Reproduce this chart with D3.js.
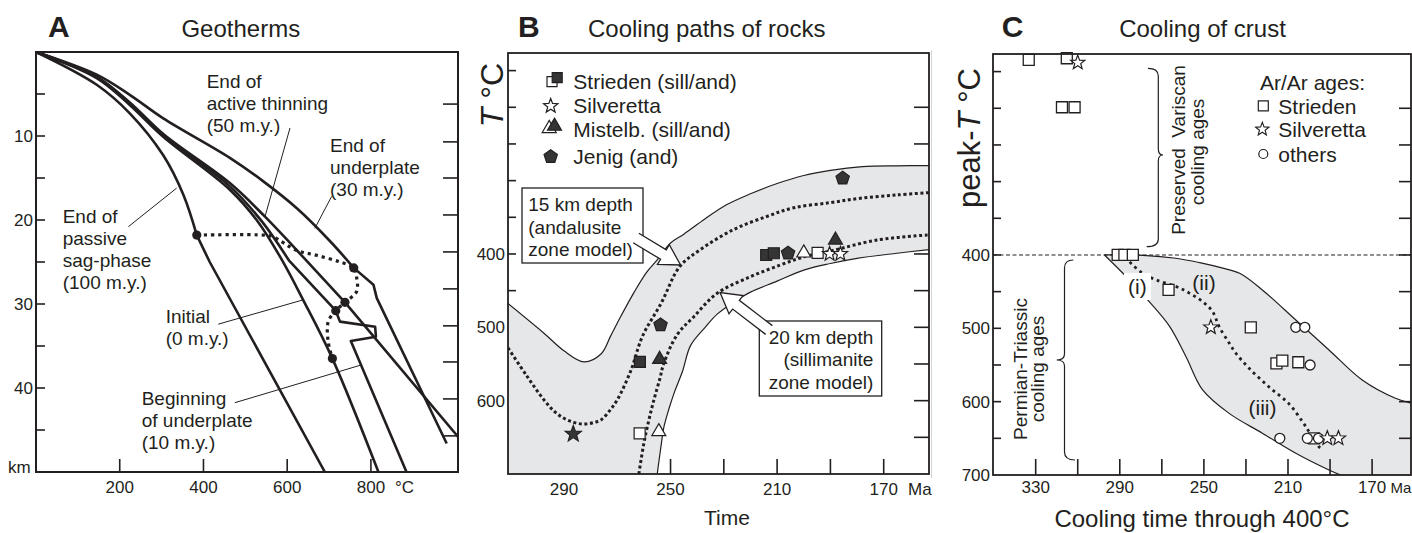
<!DOCTYPE html>
<html>
<head>
<meta charset="utf-8">
<script src="https://cdn.jsdelivr.net/npm/d3@7"></script>
<style>
  body { margin: 0; background: #fff; }
  svg { display: block; font-family: "Liberation Sans", Arial, Helvetica, sans-serif; }
  text { fill: #231f20; }
</style>
</head>
<body>
<svg id="fig" width="1412" height="533"></svg>
<script>
// ---------- Panel A: geotherms, points are [temperature °C, depth km]
const geoInitial = [[0,0],[145,3.1],[224,6.3],[304,10.1],[463,16.4],[530,20.2],[588,24.8],[638,29.5],[708,36.5],[818,50]];
const geoUnderplateStart = [[0,0],[145,3.0],[224,6.15],[304,9.9],[463,16],[540,20.2],[604,24.8],[716,30.8],[726,32.1],[810,32.7],[812,33.9],[752,34.4],[885,50]];
const geoUnderplateEnd = [[0,0],[145,2.7],[224,5.1],[304,7.9],[463,12.6],[543,15.4],[623,18.6],[702,22.5],[759,25.7],[806,27.7],[814,29.3],[981,46.6]];
const geoThinningEnd = [[0,0],[145,2.95],[224,6.0],[304,9.76],[463,15.6],[547,19.6],[623,23.6],[738,29.8],[1008,45.8]];
const geoSagEnd = [[0,0],[145,3.9],[224,7.3],[304,12.3],[352,17],[384,21.8],[415,25],[690,50]];
const isoLine = [[384,21.8],[543,21.8],[566,22],[622,23.6],[670,24.2],[726,25],[759,25.7],[766,26.9],[766,28.5],[738,29.8],[716,30.8],[698,32.1],[698,34.5],[708,36.5]];
const isoDots = [[384,21.8],[759,25.7],[738,29.8],[716,30.8],[708,36.5]];
const depthTicksA = [5,10,15,20,25,30,35,40,45];
const depthLabelsA = [10,20,30,40];
const tempTicksA = [200,400,600,800];
const rightTicksA = [6.2,10.7,15,19.4,23.8,28.2,32.6,36.9,41.3,45.7,50];
// leader lines: [from, to] in [°C, km]
const leadersA = [
  [[606.7,9.05],[547,19.6]],
  [[706,17.2],[666,21]],
  [[220.5,20.8],[336,16.2]],
  [[435.5,32.4],[638.5,29.5]],
  [[475,41.75],[774,37.3]]
];

// ---------- Panel B: cooling paths, points are [time Ma, T °C]
const bandUpperB = [[311.5,466],[297.5,508],[290,532],[282.5,547],[276,536],[272.5,512],[268.8,486],[263.8,453],[259,425],[255,408],[250,385],[245,373],[237,352],[229,333],[220,318],[210,304],[200,293],[190,286],[178,281],[165,279.8],[153,279.5]];
const bandLowerB = [[255,700],[253.5,660],[252.5,636],[250.5,610],[248.5,588],[245.5,560],[242.5,525],[237,500],[232.5,482],[226,465],[220,452],[210,437],[200,422],[190,413],[180,406],[165,399],[153,394]];
const path15km = [[311,528],[304,566],[297.5,599],[293.5,615],[290,624],[286,630],[282.5,632],[279,630],[276,626],[272.5,612],[270,599],[265,560],[260.5,512],[253.5,467],[246.5,417],[239,394.5],[226.5,367],[214,349],[203.75,337],[190,330],[178.75,324],[165,319.5],[153,316.4]];
const path20km = [[261.9,700],[260,658],[258.1,626],[256.25,599],[254,570],[252.5,549],[247.5,510],[241.25,485.5],[232.5,453.6],[220,431],[208.75,415],[200,404],[190,396],[172.5,381],[153,374]];
const striedenFilledB = [[214.1,401.4],[211.25,399],[261.5,547]];
const striedenOpenB = [[194.8,398.6],[261.6,644.5]];
const silverettaB = [[190.3,400],[186.25,400]];
const starFilledB = [[286.5,645.5]];
const mistelbFilledB = [[254.1,543.6],[188.1,381]];
const mistelbOpenB = [[200,398.6],[254.4,642.3]];
const jenigB = [[185.4,296.8],[205.9,399],[253.75,496.8]];
const timeTicksB = [290,270,250,230,210,190,170];
const timeLabelsB = [290,250,210,170];
const tempTicksLeftB = [150,200,250,300,350,400,450,500,550,600,650];
const tempTicksRightB = [200,250,300,350,400,450,500,550,600,650];
const tempLabelsB = [400,500,600];

// ---------- Panel C: cooling of crust, points are [cooling age Ma, peak T °C]
const bandUpperC = [[297.3,400],[279,400.5],[263.3,404.5],[252,410.5],[241,418],[233,425],[222.2,447.7],[206.3,488.6],[190.5,529.5],[174.7,570.5],[158.9,595.4],[151.5,602]];
const bandLowerC = [[297.3,400],[287.8,427],[275.9,464],[266.4,497],[258.5,538.7],[250.6,584],[238,616],[222.2,643],[206.3,670.4],[190.5,693.2],[184.2,701]];
const trendC = [[287,402],[285.4,409],[279.1,425],[272.7,434],[263.2,443],[256.9,452],[250.6,463.7],[245.9,477],[242.7,498],[238,520],[234.8,534],[228.5,554.5],[219,580],[209.5,603],[203.2,627],[200,641],[195.3,661.4],[194.3,664]];
const striedenC = [[333.3,134],[315.2,131.8],[317.5,198.6],[311.5,198.6],[291,400],[287.8,400],[283.8,400],[266.8,447.7],[227.7,498.6],[215.5,547.7],[212.7,544.1],[205.1,546.3],[197.6,650]];
const othersC = [[206.3,498.6],[202,498.6],[199.5,550],[213.9,650],[200.8,650],[195.5,650]];
const silverettaC = [[310,137.8],[246.7,498.6],[191.3,650],[186,650]];
const timeTicksC = [330,310,290,270,250,230,210,190,170];
const timeLabelsC = [330,290,250,210,170];
const tempTicksLeftC = [150,200,250,300,350,400,450,500,550,600,650];
const tempTicksRightC = [200,250,300,350,400,450,500,550,600,650];
const tempLabelsC = [400,500,600,700];

const ink = "#231f20", shade = "#e6e7e9", darkFill = "#353535";
const svg = d3.select("#fig");
const defs = svg.append("defs");

function clip(id, x, y, w, h) {
  defs.append("clipPath").attr("id", id).append("rect").attr("x", x).attr("y", y).attr("width", w).attr("height", h);
}
function text(g, x, y, s, size, anchor, weight) {
  return g.append("text").attr("x", x).attr("y", y).attr("font-size", size)
    .attr("text-anchor", anchor || "start").attr("font-weight", weight || null).text(s);
}
function lines(g, x, y, arr, size, anchor, step) {
  arr.forEach((s, i) => text(g, x, y + i * step, s, size, anchor));
}
function sqD(s) { return `M${-s/2},${-s/2}h${s}v${s}h${-s}Z`; }
function triD(s) { const h = s * Math.sqrt(3) / 2; return `M0,${-2*h/3}L${s/2},${h/3}L${-s/2},${h/3}Z`; }
function starD(R) {
  const pts = d3.range(10).map(i => {
    const a = -Math.PI / 2 + i * Math.PI / 5, r = i % 2 ? R * 0.42 : R;
    return [r * Math.cos(a), r * Math.sin(a)];
  });
  return "M" + pts.map(p => p[0].toFixed(2) + "," + p[1].toFixed(2)).join("L") + "Z";
}
function pentD(R) {
  const pts = d3.range(5).map(i => {
    const a = -Math.PI / 2 + i * 2 * Math.PI / 5;
    return [R * Math.cos(a), R * Math.sin(a)];
  });
  return "M" + pts.map(p => p[0].toFixed(2) + "," + p[1].toFixed(2)).join("L") + "Z";
}
function circD(r) { return `M${r},0A${r},${r} 0 1,1 ${-r},0A${r},${r} 0 1,1 ${r},0Z`; }
function marks(g, data, x, y, d, fill, sw) {
  g.selectAll(null).data(data).join("path")
    .attr("transform", p => `translate(${x(p[0])},${y(p[1])})`)
    .attr("d", d).attr("fill", fill).attr("stroke", ink).attr("stroke-width", sw || 1.2);
}
function arrow(g, p0, p1, sw, hw, hl) {
  const dx = p1[0] - p0[0], dy = p1[1] - p0[1], L = Math.hypot(dx, dy);
  const ux = dx / L, uy = dy / L, nx = -uy, ny = ux;
  const bx = p1[0] - ux * hl, by = p1[1] - uy * hl;
  const P = [
    [p0[0] + nx * sw, p0[1] + ny * sw], [bx + nx * sw, by + ny * sw], [bx + nx * hw, by + ny * hw],
    p1, [bx - nx * hw, by - ny * hw], [bx - nx * sw, by - ny * sw], [p0[0] - nx * sw, p0[1] - ny * sw]
  ];
  const d = "M" + P.map(p => p.join(",")).join("L");
  g.append("path").attr("d", d + "Z").attr("fill", "#fff");
  g.append("path").attr("d", d).attr("fill", "none").attr("stroke", ink).attr("stroke-width", 1.3).attr("stroke-linejoin", "miter");
}

// ================= Panel A =================
const xA = d3.scaleLinear().domain([0, 1008]).range([36, 458]);
const yA = d3.scaleLinear().domain([0, 50]).range([52, 472]);
clip("clipA", 36, 52, 422, 420);
const gA = svg.append("g");

text(gA, 48, 36.7, "A", 30, "start", "bold");
text(gA, 240.8, 36.7, "Geotherms", 24, "middle");

gA.selectAll(null).data(depthTicksA).join("line")
  .attr("x1", 36).attr("x2", 45).attr("y1", d => yA(d)).attr("y2", d => yA(d)).attr("stroke", ink).attr("stroke-width", 1.6);
gA.selectAll(null).data(rightTicksA).join("line")
  .attr("x1", 443).attr("x2", 458).attr("y1", d => yA(d)).attr("y2", d => yA(d)).attr("stroke", ink).attr("stroke-width", 1.6);
gA.selectAll(null).data(tempTicksA).join("line")
  .attr("x1", d => xA(d)).attr("x2", d => xA(d)).attr("y1", 472).attr("y2", 459).attr("stroke", ink).attr("stroke-width", 1.6);
depthLabelsA.forEach(v => text(gA, 33, yA(v) + 6, v, 17, "end"));
tempTicksA.forEach(v => text(gA, xA(v), 492.5, v, 17, "middle"));
text(gA, 8, 472.5, "km", 17);
text(gA, 395, 492.5, "°C", 17);

const smoothA = d3.line().x(d => xA(d[0])).y(d => yA(d[1])).curve(d3.curveCatmullRom.alpha(0.5));
function geoPath(pts, k) {
  return smoothA(pts.slice(0, k + 1)) + pts.slice(k + 1).map(p => `L${xA(p[0])},${yA(p[1])}`).join("");
}
const curvesA = gA.append("g").attr("clip-path", "url(#clipA)")
  .attr("fill", "none").attr("stroke", ink).attr("stroke-width", 2.6).attr("stroke-linejoin", "round");
curvesA.append("path").attr("d", geoPath(geoSagEnd, 5));
curvesA.append("path").attr("d", geoPath(geoInitial, geoInitial.length - 1));
curvesA.append("path").attr("d", geoPath(geoUnderplateStart, 6));
curvesA.append("path").attr("d", geoPath(geoThinningEnd, 7));
curvesA.append("path").attr("d", geoPath(geoUnderplateEnd, 8));

gA.append("path").attr("d", smoothA(isoLine)).attr("fill", "none").attr("stroke", ink)
  .attr("stroke-width", 3.2).attr("stroke-dasharray", "3.2,4");
gA.selectAll(null).data(isoDots).join("circle")
  .attr("cx", d => xA(d[0])).attr("cy", d => yA(d[1])).attr("r", 4.6).attr("fill", ink);

gA.selectAll(null).data(leadersA).join("line")
  .attr("x1", d => xA(d[0][0])).attr("y1", d => yA(d[0][1]))
  .attr("x2", d => xA(d[1][0])).attr("y2", d => yA(d[1][1]))
  .attr("stroke", ink).attr("stroke-width", 1);

lines(gA, 206.7, 88.3, ["End of", "active thinning", "(50 m.y.)"], 19, "start", 22);
lines(gA, 330, 151.7, ["End of", "underplate", "(30 m.y.)"], 19, "start", 22);
lines(gA, 62.7, 223, ["End of", "passive", "sag-phase", "(100 m.y.)"], 19, "start", 22);
lines(gA, 165.7, 323, ["Initial", "(0 m.y.)"], 19, "start", 22);
lines(gA, 141.7, 405, ["Beginning", "of underplate", "(10 m.y.)"], 19, "start", 22);

gA.append("rect").attr("x", 36).attr("y", 52).attr("width", 422).attr("height", 420)
  .attr("fill", "none").attr("stroke", ink).attr("stroke-width", 2);

// ================= Panel B =================
const xB = d3.scaleLinear().domain([311, 153]).range([508, 929]);
const yB = d3.scaleLinear().domain([126, 700]).range([53, 474]);
clip("clipB", 508, 53, 421, 421);
const gB = svg.append("g");

text(gB, 518, 36.7, "B", 30, "start", "bold");
text(gB, 706.7, 37, "Cooling paths of rocks", 24, "middle");

gB.selectAll(null).data(tempTicksLeftB).join("line")
  .attr("x1", 508).attr("x2", 516).attr("y1", d => yB(d)).attr("y2", d => yB(d)).attr("stroke", ink).attr("stroke-width", 1.6);
gB.selectAll(null).data(tempTicksRightB).join("line")
  .attr("x1", 914).attr("x2", 929).attr("y1", d => yB(d)).attr("y2", d => yB(d)).attr("stroke", ink).attr("stroke-width", 1.6);
gB.selectAll(null).data(timeTicksB).join("line")
  .attr("x1", d => xB(d)).attr("x2", d => xB(d)).attr("y1", 474).attr("y2", 459).attr("stroke", ink).attr("stroke-width", 1.6);

const lnB = d3.line().x(d => xB(d[0])).y(d => yB(d[1])).curve(d3.curveCatmullRom.alpha(0.5));
const bandB = gB.append("g").attr("clip-path", "url(#clipB)");
bandB.append("path")
  .attr("d", lnB(bandUpperB) + lnB(bandLowerB.slice().reverse()).replace("M", "L") + `L${xB(311.5)},${yB(700)}Z`)
  .attr("fill", shade);
bandB.append("path").attr("d", lnB(bandUpperB)).attr("fill", "none").attr("stroke", ink).attr("stroke-width", 1.2);
bandB.append("path").attr("d", lnB(bandLowerB)).attr("fill", "none").attr("stroke", ink).attr("stroke-width", 1.2);
[path15km, path20km].forEach(p => bandB.append("path").attr("d", lnB(p)).attr("fill", "none")
  .attr("stroke", ink).attr("stroke-width", 3).attr("stroke-dasharray", "3,2.6"));

// annotation boxes with arrows
gB.append("rect").attr("x", 522).attr("y", 188).attr("width", 121).attr("height", 75)
  .attr("fill", "#fff").attr("stroke", ink).attr("stroke-width", 1.3);
lines(gB, 528.3, 211, ["15 km depth", "(andalusite", "zone model)"], 19, "start", 22.7);
arrow(gB, [636, 238], [xB(246.25), yB(415)], 5.5, 11.5, 20);
gB.append("rect").attr("x", 759.3).attr("y", 321).attr("width", 122.4).attr("height", 75)
  .attr("fill", "#fff").attr("stroke", ink).attr("stroke-width", 1.3);
lines(gB, 873.3, 343.5, ["20 km depth", "(sillimanite", "zone model)"], 19, "end", 22.5);
arrow(gB, [769, 330], [xB(231.4), yB(452.6)], 5.5, 11.5, 20);

marks(gB, striedenFilledB, xB, yB, sqD(11), darkFill);
marks(gB, striedenOpenB, xB, yB, sqD(11), "#fff");
marks(gB, jenigB, xB, yB, pentD(7), darkFill);
marks(gB, mistelbOpenB, xB, yB, triD(14), "#fff");
marks(gB, mistelbFilledB, xB, yB, triD(14), darkFill);
marks(gB, silverettaB, xB, yB, starD(7.5), "#fff");
marks(gB, starFilledB, xB, yB, starD(8.5), darkFill);

// legend
const legB = gB.append("g");
legB.append("path").attr("transform", "translate(552,81.7)").attr("d", sqD(10)).attr("fill", "#fff").attr("stroke", ink).attr("stroke-width", 1.2);
legB.append("path").attr("transform", "translate(557.2,77.7)").attr("d", sqD(10)).attr("fill", darkFill).attr("stroke", ink).attr("stroke-width", 1.2);
legB.append("path").attr("transform", "translate(550.7,106)").attr("d", starD(7.5)).attr("fill", "#fff").attr("stroke", ink).attr("stroke-width", 1.2);
legB.append("path").attr("transform", "translate(549.2,128.5)").attr("d", triD(14)).attr("fill", "#fff").attr("stroke", ink).attr("stroke-width", 1.2);
legB.append("path").attr("transform", "translate(554.5,126.2)").attr("d", triD(14)).attr("fill", darkFill).attr("stroke", ink).attr("stroke-width", 1.2);
legB.append("path").attr("transform", "translate(550.7,156.7)").attr("d", pentD(7)).attr("fill", darkFill).attr("stroke", ink).attr("stroke-width", 1.2);
lines(legB, 573.3, 89, ["Strieden (sill/and)", "Silveretta", "Mistelb. (sill/and)"], 21, "start", 24);
text(legB, 573.3, 163.5, "Jenig (and)", 21);

tempLabelsB.forEach(v => text(gB, 505, yB(v) + 6, v, 17, "end"));
timeLabelsB.forEach(v => text(gB, xB(v), 495, v, 17, "middle"));
text(gB, 908, 495, "Ma", 17);
text(gB, 727, 525, "Time", 21, "middle");
const tLabB = gB.append("text").attr("transform", "translate(503,95) rotate(-90)")
  .attr("text-anchor", "middle").attr("font-size", 32);
tLabB.append("tspan").attr("font-style", "italic").text("T");
tLabB.append("tspan").text(" °C");

gB.append("rect").attr("x", 508).attr("y", 53).attr("width", 421).attr("height", 421)
  .attr("fill", "none").attr("stroke", ink).attr("stroke-width", 1.8);

// ================= Panel C =================
const xC = d3.scaleLinear().domain([350.3, 151.5]).range([993, 1411]);
const yC = d3.scaleLinear().domain([126, 700]).range([54, 475]);
clip("clipC", 993, 54, 418, 421);
const gC = svg.append("g");

gC.append("line").attr("x1", 931.5).attr("x2", 931.5).attr("y1", 50).attr("y2", 478)
  .attr("stroke", "#d4d4d4").attr("stroke-width", 1);

text(gC, 1001.7, 36.7, "C", 30, "start", "bold");
text(gC, 1202.5, 37, "Cooling of crust", 24, "middle");

const lnC = d3.line().x(d => xC(d[0])).y(d => yC(d[1])).curve(d3.curveCatmullRom.alpha(0.5));
const bandC = gC.append("g").attr("clip-path", "url(#clipC)");
bandC.append("path")
  .attr("d", lnC(bandUpperC) + `L${xC(151.5)},${yC(700)}` + lnC(bandLowerC.slice().reverse()).replace("M", "L") + "Z")
  .attr("fill", shade);
gC.append("line").attr("x1", 993).attr("x2", 1411).attr("y1", yC(400)).attr("y2", yC(400))
  .attr("stroke", ink).attr("stroke-width", 1.1).attr("stroke-dasharray", "4,2.5");
bandC.append("path").attr("d", lnC(bandUpperC)).attr("fill", "none").attr("stroke", ink).attr("stroke-width", 1.2);
bandC.append("path").attr("d", lnC(bandLowerC)).attr("fill", "none").attr("stroke", ink).attr("stroke-width", 1.2);
bandC.append("path").attr("d", lnC(trendC)).attr("fill", "none").attr("stroke", ink)
  .attr("stroke-width", 2.8).attr("stroke-dasharray", "2.8,3.8");

gC.selectAll(null).data(tempTicksLeftC).join("line")
  .attr("x1", 993).attr("x2", 1001).attr("y1", d => yC(d)).attr("y2", d => yC(d)).attr("stroke", ink).attr("stroke-width", 1.6);
gC.selectAll(null).data(tempTicksRightC).join("line")
  .attr("x1", 1399).attr("x2", 1411).attr("y1", d => yC(d)).attr("y2", d => yC(d)).attr("stroke", ink).attr("stroke-width", 1.6);
gC.selectAll(null).data(timeTicksC).join("line")
  .attr("x1", d => xC(d)).attr("x2", d => xC(d)).attr("y1", 475).attr("y2", 459).attr("stroke", ink).attr("stroke-width", 1.6);

// (i) (ii) (iii) labels
gC.append("rect").attr("x", 1124).attr("y", 273).attr("width", 27).attr("height", 27).attr("fill", "#fff");
text(gC, 1137.3, 294, "(i)", 21, "middle");
text(gC, 1204, 290, "(ii)", 21, "middle");
text(gC, 1262.5, 415, "(iii)", 21, "middle");

marks(gC, striedenC, xC, yC, sqD(11), "#fff", 1.3);
marks(gC, othersC, xC, yC, circD(5), "#fff", 1.3);
marks(gC, silverettaC, xC, yC, starD(7.5), "#fff", 1.2);

// braces
const braceUp = "M1148,68.3 Q1158.3,68.3 1158.3,76 L1158.3,149 Q1158.3,155 1163,155 Q1158.3,155 1158.3,161 L1158.3,239 Q1158.3,246.7 1146.7,246.7";
const braceLow = "M1073.3,260 Q1064.5,260 1064.5,268 L1064.5,354 Q1064.5,360 1056.7,360 Q1064.5,360 1064.5,366 L1064.5,452 Q1064.5,460 1075,460";
[braceUp, braceLow].forEach(d => gC.append("path").attr("d", d).attr("fill", "none").attr("stroke", ink).attr("stroke-width", 1.2));
const rot = (x, y, s) => gC.append("text").attr("transform", `translate(${x},${y}) rotate(-90)`)
  .attr("text-anchor", "middle").attr("font-size", 19).attr("xml:space", "preserve").text(s);
rot(1185, 150, "Preserved  Variscan");
rot(1204, 152, "cooling ages");
rot(1026.7, 369, "Permian-Triassic");
rot(1044, 369, "cooling ages");

// legend
const legC = gC.append("g");
text(legC, 1260, 89.5, "Ar/Ar ages:", 21);
legC.append("path").attr("transform", "translate(1263.3,105.8)").attr("d", sqD(10)).attr("fill", "#fff").attr("stroke", ink).attr("stroke-width", 1.2);
legC.append("path").attr("transform", "translate(1262.3,129.3)").attr("d", starD(7)).attr("fill", "#fff").attr("stroke", ink).attr("stroke-width", 1.1);
legC.append("path").attr("transform", "translate(1263.3,154)").attr("d", circD(4.5)).attr("fill", "#fff").attr("stroke", ink).attr("stroke-width", 1.2);
text(legC, 1278.3, 113.5, "Strieden", 21);
text(legC, 1278.3, 137, "Silveretta", 21);
text(legC, 1278.3, 161.5, "others", 21);

tempLabelsC.forEach(v => text(gC, 990, yC(v) + 6, v, 17, "end"));
timeLabelsC.forEach(v => text(gC, xC(v), 493.3, v, 17, "middle"));
text(gC, 1390.5, 493.3, "Ma", 15);
text(gC, 1202, 526.5, "Cooling time through 400°C", 24, "middle");
const tLabC = gC.append("text").attr("transform", "translate(980,138) rotate(-90)")
  .attr("text-anchor", "middle").attr("font-size", 31);
tLabC.append("tspan").text("peak-");
tLabC.append("tspan").attr("font-style", "italic").text("T");
tLabC.append("tspan").text(" °C");

gC.append("rect").attr("x", 993).attr("y", 54).attr("width", 418).attr("height", 421)
  .attr("fill", "none").attr("stroke", ink).attr("stroke-width", 1.8);
</script>
</body>
</html>
